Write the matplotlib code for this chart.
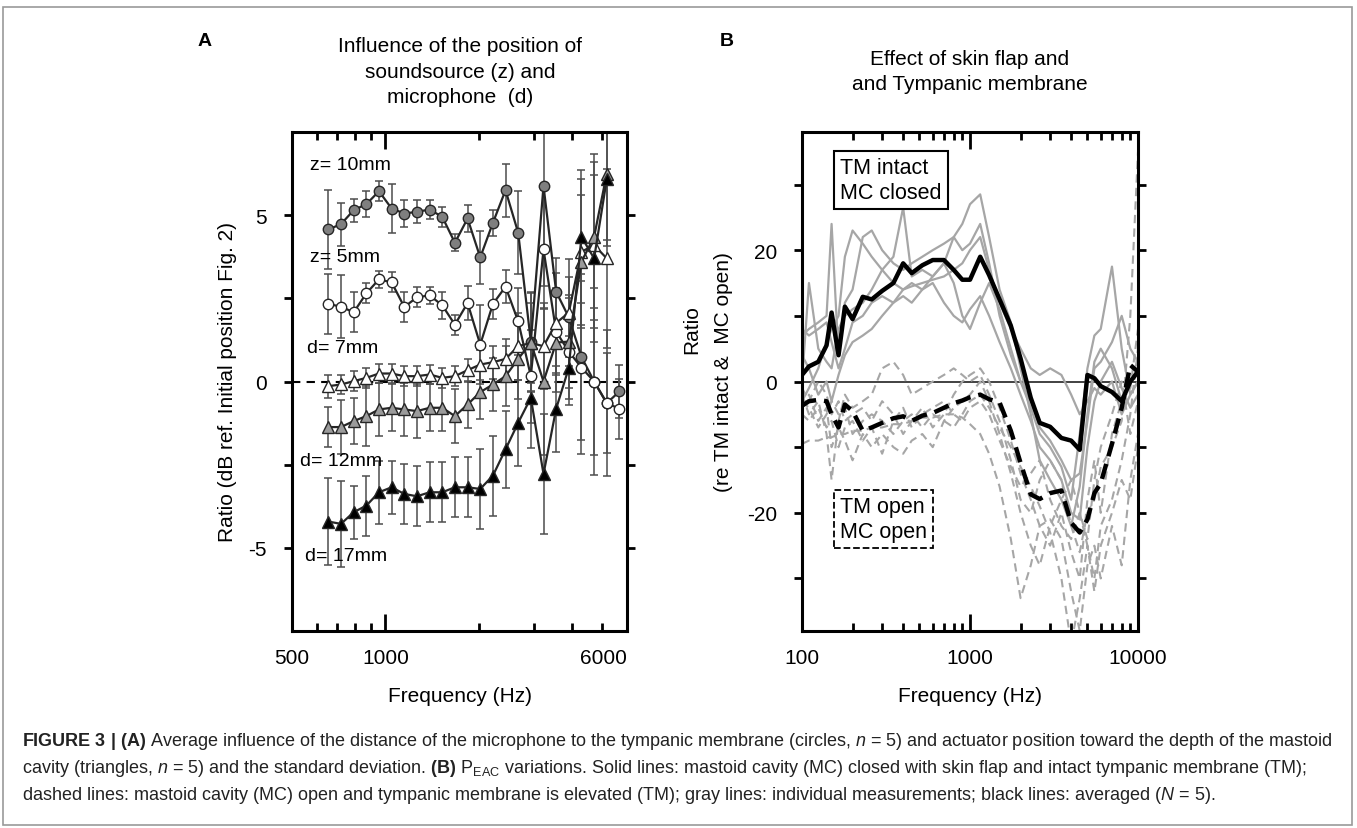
import matplotlib
matplotlib.use("Agg")
import matplotlib.pyplot as plt
from matplotlib.patches import Rectangle
from matplotlib.ticker import FixedLocator, NullFormatter

plt.rcParams["font.family"] = ["Liberation Sans", "DejaVu Sans"]
plt.rcParams["axes.unicode_minus"] = False
plt.rcParams["mathtext.fontset"] = "custom"
plt.rcParams["mathtext.rm"] = "Liberation Sans"
plt.rcParams["mathtext.it"] = "Liberation Sans:italic"
plt.rcParams["mathtext.bf"] = "Liberation Sans:bold"

# ---------- panel A data ----------
freq_a = [655, 719, 790, 868, 953, 1047, 1150, 1263, 1388, 1524, 1674, 1839,
          2020, 2219, 2437, 2677, 2940, 3230, 3547, 3896, 4280, 4701, 5164, 5672]

z10_mean = [4.57, 4.73, 5.15, 5.33, 5.72, 5.2, 5.05, 5.1, 5.17, 4.95, 4.17, 4.9,
            3.73, 4.77, 5.75, 4.47, 1.2, 5.88, 2.7, 1.93, 0.74, 0.0, -0.65, -0.3]
z10_sd = [1.2, 0.65, 0.35, 0.4, 0.3, 0.75, 0.4, 0.35, 0.3, 0.3, 0.25, 0.4,
          0.8, 0.4, 0.8, 1.25, 1.5, 3.0, 1.0, 1.2, 2.5, 2.2, 1.5, 0.8]

z5_mean = [2.33, 2.25, 2.08, 2.65, 3.07, 2.98, 2.24, 2.53, 2.59, 2.29, 1.71, 2.36,
           1.11, 2.33, 2.85, 1.81, 0.16, 3.97, 1.5, 0.9, 0.42, 0.0, -0.65, -0.82]
z5_sd = [0.9, 0.95, 0.6, 0.3, 0.25, 0.3, 0.45, 0.3, 0.25, 0.4, 0.3, 0.5,
         1.2, 0.45, 0.5, 1.0, 1.4, 1.8, 1.3, 1.6, 2.6, 2.8, 2.2, 0.9]

d7_mean = [-0.14, -0.09, 0.01, 0.11, 0.24, 0.24, 0.16, 0.16, 0.21, 0.11, 0.16, 0.34,
           0.51, 0.58, 0.68, 1.06, 1.16, 1.06, 1.76, 2.07, 3.9, 4.1, 3.7]
d7_sd = [0.35, 0.3, 0.3, 0.3, 0.3, 0.3, 0.3, 0.3, 0.3, 0.3, 0.3, 0.35,
         0.45, 0.5, 0.6, 1.0, 1.2, 1.3, 1.5, 1.6, 2.2, 2.5, 2.7]

d12_mean = [-1.37, -1.37, -1.19, -1.04, -0.84, -0.79, -0.84, -0.89, -0.79, -0.79, -1.04, -0.69,
            -0.32, -0.09, 0.16, 0.68, 1.17, 0.0, 1.17, 1.2, 3.6, 4.35, 6.25]
d12_sd = [0.6, 0.8, 0.7, 0.9, 0.8, 0.7, 0.8, 0.8, 0.7, 0.7, 0.8, 0.7,
          0.8, 0.8, 0.9, 1.2, 1.5, 2.2, 1.5, 1.4, 2.0, 2.5, 2.0]

d17_mean = [-4.21, -4.28, -3.93, -3.73, -3.33, -3.18, -3.38, -3.45, -3.33, -3.33, -3.18, -3.18,
            -3.23, -2.83, -2.04, -1.24, -0.49, -2.78, -0.82, 0.41, 4.35, 3.7, 6.08]
d17_sd = [1.3, 1.3, 0.8, 0.9, 0.95, 0.8, 0.9, 0.9, 0.9, 0.9, 0.9, 0.9,
          1.2, 1.2, 1.15, 1.3, 1.5, 1.8, 1.3, 0.95, 2.0, 2.5, 2.0]

# ---------- panel B data ----------
freq_b = [100, 110, 125, 140, 150, 165, 180, 200, 230, 260, 300, 350, 400, 450, 520,
          600, 700, 800, 900, 1000, 1150, 1300, 1500, 1750, 2000, 2300, 2600, 3000,
          3500, 4000, 4500, 5000, 5500, 6000, 7000, 8000, 9000, 10000]

closed_mean = [1.0, 2.3, 3.0, 5.5, 10.5, 4.0, 11.4, 9.5, 12.9, 12.5, 13.8, 15.0, 18.0, 16.5, 17.7,
               18.5, 18.5, 17.0, 15.5, 15.5, 19.0, 16.2, 12.5, 8.5, 3.5, -2.5, -6.3, -6.9,
               -8.6, -9.0, -10.4, 1.0, 0.5, -0.7, -1.6, -3.0, 0.0, 1.5]
open_mean = [-3.7, -3.0, -2.8, -3.0, -5.0, -7.0, -3.5, -4.5, -7.5, -7.0, -6.3, -5.6, -5.3, -6.0, -5.2,
             -4.8, -4.0, -3.3, -2.9, -2.4, -2.0, -2.7, -3.2, -7.5, -12.4, -17.2, -17.9, -17.0,
             -16.6, -21.5, -23.0, -21.0, -17.0, -15.5, -9.5, -4.0, 2.5, 1.5]

closed_ears = [
    [7, 8, 9, 10, 24, 4, 12, 14, 22, 23, 20, 18, 17, 18, 19, 20, 21, 22, 24, 27, 28.5, 22, 14, 9,
     2, -5, -12, -15, -18, -22, -16, -5, 3, 5, 2, -3, 0, 2],
    [0, 15, 5, 3, 2, 8, 10, 11, 12, 14, 17, 19, 26.5, 16, 17, 16, 18, 22, 20, 21, 24, 18, 10, 4,
     0, -4, -8, -10, -13, -18, -8, 2, 7, 8, 17.5, 5, -2, 0],
    [-3, -1, 2, 6, 8, 10, 19, 23, 21, 19, 17, 15, 14, 14.5, 15, 15.5, 16, 17, 18, 20, 22, 17, 12, 8,
     5, 2, 1, 2, 1, -2, -5, -3, -1, -2, 0, -5, -2, 0],
    [8, 7, 8, 9, 6, 2, 5, 9, 10, 12, 13, 12, 14, 15, 14, 15, 12, 10, 9, 11, 13, 10, 6, 2,
     -2, -6, -10, -12, -15, -20, -21, -10, -3, 0, 3, -1, -4, -2],
    [4, 2, -2, 0, -3, 1, 4, 6, 7, 8, 10, 12, 13, 12, 14, 16, 18, 15, 10, 8, 12, 15, 11, 5,
     0, -3, -7, -9, -12, -15, -14, -6, 2, 3, 6, 10, 5, 3],
]
open_ears = [
    [-9.5, -9, -9, -8.5, -8.5, -8, -8, -7.5, -7.5, -7, -7, -6.5, -6.5, -6, -5.5, -5.5, -5, -5, -5.5,
     -6.5, -8, -11, -16, -24, -33, -28, -22, -21, -24, -32, -38, -28, -25, -30, -22, -28, -15, -8],
    [-2, -5, -3, -8, -15, -6, -2, -4, -3, -2, 2, 3, 1, -2, -1, 0, 1, 2, 1, 0, 1, -2, -6, -12,
     -18, -20, -15, -12, -15, -22, -26, -20, -18, -13, -10, -6, 10, 35],
    [-4, -2, -6, -4, -10, -7, -9, -12, -8, -10, -8, -10, -11, -9, -8, -10, -6, -4, -3, -2, 0, -3,
     -8, -14, -20, -25, -28, -22, -18, -15, -20, -25, -30, -22, -18, -12, -5, 5],
    [-1, -3, 0, -2, -5, -3, -6, -5, -4, -6, -3, -5, -8, -6, -4, -7, -5, -2, 0, 1, 2, 0, -4, -9,
     -14, -18, -22, -25, -20, -26, -30, -18, -12, -20, -8, -3, -1, 8],
    [-5, -6, -4, -7, -6, -10, -7, -6, -9, -7, -11, -6, -4, -7, -5, -4, -3, -5, -6, -4, -3, -5,
     -9, -13, -16, -14, -12, -18, -22, -24, -20, -24, -15, -10, -5, 0, -8, -3],
    [-3, -4, -7, -5, -3, -5, -4, -8, -6, -5, -6, -8, -6, -5, -7, -5, -6, -7, -5, -3, -2, -4,
     -7, -10, -13, -16, -19, -23, -30, -40, -33, -25, -32, -25, -20, -15, -18, -10],
]

W, H = 1357, 829
fig = plt.figure(figsize=(W / 100, H / 100), dpi=100)


def fx(px):
    return px / W


def fy(py):
    return 1 - py / H


# outer frame
fig.add_artist(Rectangle((fx(3), fy(826)), fx(1349), 818 / H, transform=fig.transFigure,
                         fill=False, edgecolor="#9a9a9a", lw=1.2))

TICK_FS = 15
GRAY_LINE = "#a6a6a6"


def style_axes(ax):
    for s in ax.spines.values():
        s.set_linewidth(2.2)
    ax.tick_params(axis="x", which="both", direction="in", top=True, bottom=True,
                   width=2, labelsize=TICK_FS, pad=12)
    ax.tick_params(axis="x", which="major", length=12)
    ax.tick_params(axis="x", which="minor", length=6)
    ax.tick_params(axis="y", which="both", direction="out", left=True, right=True,
                   width=2, length=6, labelsize=TICK_FS, pad=12)


# ---------------- panel A ----------------
axA = fig.add_axes([fx(292), fy(632), fx(627) - fx(292), (632 - 133) / H])
axA.set_xscale("log")
axA.set_xlim(500, 6000)
axA.set_ylim(-7.5, 7.5)
axA.axhline(0, color="black", lw=1.5, ls=(0, (4, 3)), zorder=1)

series_a = [
    (freq_a, z10_mean, z10_sd, "o", "#7f7f7f"),
    (freq_a, z5_mean, z5_sd, "o", "white"),
    (freq_a[:23], d7_mean, d7_sd, "^", "white"),
    (freq_a[:23], d12_mean, d12_sd, "^", "#9b9b9b"),
    (freq_a[:23], d17_mean, d17_sd, "^", "black"),
]
for f, m, sd, mk, fc in series_a:
    axA.errorbar(f, m, yerr=sd, fmt="none", ecolor="#4d4d4d", elinewidth=1.1,
                 capsize=3, capthick=1.1, zorder=2)
for f, m, sd, mk, fc in series_a:
    axA.plot(f, m, color="#262626", lw=1.6, marker=mk, ms=8 if mk == "^" else 7.5,
             mfc=fc, mec="#262626", mew=1.0, zorder=3)

axA.xaxis.set_major_locator(FixedLocator([500, 1000, 6000]))
axA.xaxis.set_minor_locator(FixedLocator([600, 700, 800, 900, 2000, 3000, 4000, 5000]))
axA.xaxis.set_minor_formatter(NullFormatter())
axA.set_xticklabels(["500", "1000", "6000"])
axA.yaxis.set_major_locator(FixedLocator([-5, 0, 5]))
axA.yaxis.set_minor_locator(FixedLocator([-2.5, 2.5]))
style_axes(axA)
axA.get_xticklabels()[-1].set_horizontalalignment("right")
axA.set_xlabel("Frequency (Hz)", fontsize=15, labelpad=14)
axA.set_ylabel("Ratio (dB ref. Initial position Fig. 2)", fontsize=15, labelpad=8)

lab_fs = 14
axA.text(fx(310), fy(165), "z= 10mm", transform=fig.transFigure, fontsize=lab_fs, va="center")
axA.text(fx(310), fy(257), "z= 5mm", transform=fig.transFigure, fontsize=lab_fs, va="center")
axA.text(fx(307), fy(349), "d= 7mm", transform=fig.transFigure, fontsize=lab_fs, va="center")
axA.text(fx(300), fy(462), "d= 12mm", transform=fig.transFigure, fontsize=lab_fs, va="center")
axA.text(fx(305), fy(557), "d= 17mm", transform=fig.transFigure, fontsize=lab_fs, va="center")

# ---------------- panel B ----------------
axB = fig.add_axes([fx(802), fy(632), fx(1138) - fx(802), (632 - 133) / H])
axB.set_xscale("log")
axB.set_xlim(100, 10000)
axB.set_ylim(-38, 38)
axB.axhline(0, color="#333333", lw=1.3, zorder=1)

for vals in closed_ears:
    axB.plot(freq_b, vals, color=GRAY_LINE, lw=1.6, zorder=2)
for vals in open_ears:
    axB.plot(freq_b, vals, color=GRAY_LINE, lw=1.5, ls=(0, (4, 2.5)), zorder=2)
axB.plot(freq_b, closed_mean, color="black", lw=3.2, zorder=4)
axB.plot(freq_b, open_mean, color="black", lw=3.2, ls=(0, (3.5, 1.8)), zorder=4)

axB.xaxis.set_major_locator(FixedLocator([100, 1000, 10000]))
axB.xaxis.set_minor_locator(FixedLocator([200, 300, 400, 500, 600, 700, 800, 900,
                                          2000, 3000, 4000, 5000, 6000, 7000, 8000, 9000]))
axB.xaxis.set_minor_formatter(NullFormatter())
axB.set_xticklabels(["100", "1000", "10000"])
axB.yaxis.set_major_locator(FixedLocator([-20, 0, 20]))
axB.yaxis.set_minor_locator(FixedLocator([-30, -10, 10, 30]))
style_axes(axB)
axB.set_xlabel("Frequency (Hz)", fontsize=15, labelpad=14)

fig.text(fx(692), fy(330), "Ratio", rotation=90, fontsize=15, ha="center", va="center")
fig.text(fx(723), fy(372), "(re TM intact &  MC open)", rotation=90, fontsize=15,
         ha="center", va="center")

axB.text(fx(840), fy(181), "TM intact\nMC closed", transform=fig.transFigure, fontsize=15.5,
         va="center", ha="left", linespacing=1.2,
         bbox=dict(boxstyle="square,pad=0.3", fc="white", ec="black", lw=1.5), zorder=6)
axB.text(fx(840), fy(520), "TM open\nMC open", transform=fig.transFigure, fontsize=15.5,
         va="center", ha="left", linespacing=1.2,
         bbox=dict(boxstyle="square,pad=0.3", fc="white", ec="black", lw=1.3, ls="--"),
         zorder=6)

# ---------------- titles ----------------
fig.text(fx(205), fy(42), "A", fontsize=14, fontweight="bold", ha="center", va="center")
fig.text(fx(460), fy(72), "Influence of the position of\nsoundsource (z) and\nmicrophone  (d)",
         fontsize=15, ha="center", va="center", linespacing=1.45)
fig.text(fx(727), fy(42), "B", fontsize=14, fontweight="bold", ha="center", va="center")
fig.text(fx(970), fy(72), "Effect of skin flap and\nand Tympanic membrane",
         fontsize=15, ha="center", va="center", linespacing=1.45)

# ---------------- caption ----------------
cap = [
    r"$\mathbf{FIGURE\ 3\ |\ (A)}$ Average influence of the distance of the microphone to the "
    r"tympanic membrane (circles, $\it{n}$ = 5) and actuator position toward the depth of the mastoid",
    r"cavity (triangles, $\it{n}$ = 5) and the standard deviation. $\mathbf{(B)}$ P$_{\rm EAC}$ "
    r"variations. Solid lines: mastoid cavity (MC) closed with skin flap and intact tympanic membrane (TM);",
    r"dashed lines: mastoid cavity (MC) open and tympanic membrane is elevated (TM); gray lines: "
    r"individual measurements; black lines: averaged ($\it{N}$ = 5).",
]
for i, line in enumerate(cap):
    fig.text(fx(22), fy(742 + 27 * i), line, fontsize=13.0,
             ha="left", va="center", color="#222222")

fig.savefig("out.png", dpi=100)
